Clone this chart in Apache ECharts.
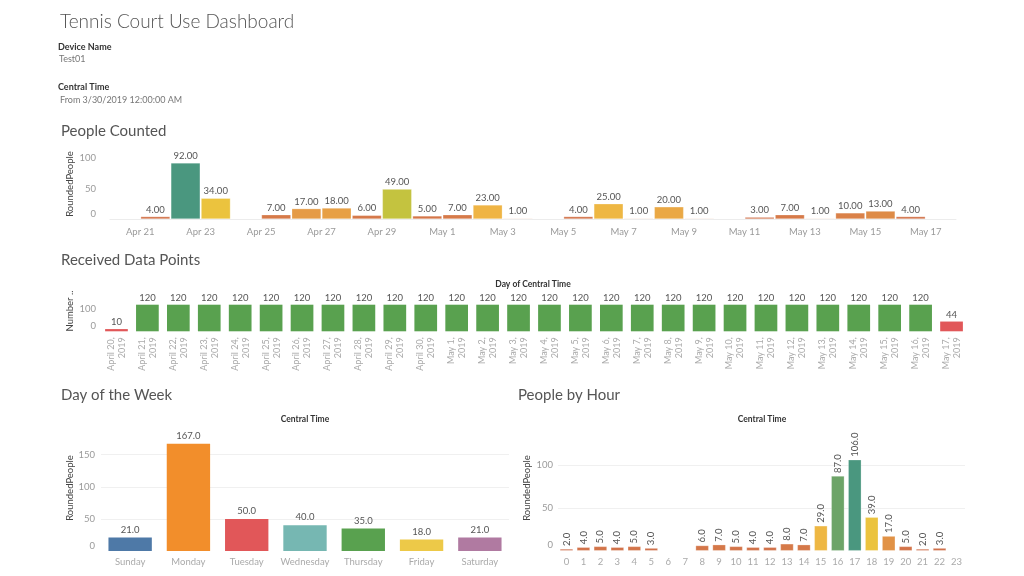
<!DOCTYPE html>
<html>
<head>
<meta charset="utf-8">
<script src="https://cdn.jsdelivr.net/npm/echarts@6/dist/echarts.min.js"></script>
<style>
html,body{margin:0;padding:0;background:#fff;}
#c{width:1024px;height:576px;}
</style>
</head>
<body>
<div id="c"></div>
<script>
// ---- Data ----
const countDays = ['Apr 20','Apr 21','Apr 22','Apr 23','Apr 24','Apr 25','Apr 26','Apr 27','Apr 28','Apr 29','Apr 30','May 1','May 2','May 3','May 4','May 5','May 6','May 7','May 8','May 9','May 10','May 11','May 12','May 13','May 14','May 15','May 16','May 17'];
const countTickDays = countDays.concat(['May 18']);
const peopleCounted = [null,4,92,34,null,7,17,18,6,49,5,7,23,1,null,4,25,1,20,1,null,3,7,1,10,13,4,null];

const receivedDays = ['April 20, 2019','April 21, 2019','April 22, 2019','April 23, 2019','April 24, 2019','April 25, 2019','April 26, 2019','April 27, 2019','April 28, 2019','April 29, 2019','April 30, 2019','May 1, 2019','May 2, 2019','May 3, 2019','May 4, 2019','May 5, 2019','May 6, 2019','May 7, 2019','May 8, 2019','May 9, 2019','May 10, 2019','May 11, 2019','May 12, 2019','May 13, 2019','May 14, 2019','May 15, 2019','May 16, 2019','May 17, 2019'];
const receivedPoints = [10,120,120,120,120,120,120,120,120,120,120,120,120,120,120,120,120,120,120,120,120,120,120,120,120,120,120,44];

const weekdays = ['Sunday','Monday','Tuesday','Wednesday','Thursday','Friday','Saturday'];
const weekdayPeople = [21,167,50,40,35,18,21];
const weekdayColors = ['#4e79a7','#f28e2b','#e15759','#76b7b2','#59a14f','#edc948','#b07aa1'];

const hours = ['0','1','2','3','4','5','6','7','8','9','10','11','12','13','14','15','16','17','18','19','20','21','22','23'];
const hourPeople = [2,4,5,4,5,3,null,null,6,7,5,4,4,8,7,29,87,106,39,17,5,2,3,null];

// ---- Styles ----
const FONT = 'Lato, "Open Sans", sans-serif';
const rampColors = ['#cd6a4b','#dc8547','#efb444','#ebc43e','#cfc73b','#a5b94a','#7faa5e','#5f9f70','#4a977f'];
const axisLabelStyle = {color:'#9a9a9a', fontSize:9.5, fontFamily:FONT};
const barLabel = {color:'#555', fontSize:9.5, fontFamily:FONT};

// y-axis label: the zero label sits slightly above the baseline
function yLabel(margin) {
  return Object.assign({
    margin: margin,
    showMaxLabel: false,
    formatter: (v)=> v === 0 ? '{z|0}' : String(v),
    rich: {z: {color:'#9a9a9a', fontSize:9.5, fontFamily:FONT, padding:[0,0,11,0]}}
  }, axisLabelStyle);
}

function txt(x, y, text, size, color, weight, rot, align) {
  return {type:'text', x:x, y:y, rotation: rot || 0,
    style:{text:text, fill:color, font:(weight||'normal')+' '+size+'px '+FONT,
      textAlign: align || 'left', textVerticalAlign:'middle'}};
}

const chart = echarts.init(document.getElementById('c'), null, {renderer:'canvas'});

const option = {
  backgroundColor:'#fff',
  animation:false,
  textStyle:{fontFamily:FONT},
  graphic:[
    txt(60, 22, 'Tennis Court Use Dashboard', 19, '#555', '300'),
    txt(58, 47, 'Device Name', 9, '#333', 'bold'),
    txt(59, 59, 'Test01', 9, '#777'),
    txt(58, 87, 'Central Time', 9, '#333', 'bold'),
    txt(60, 100, 'From 3/30/2019 12:00:00 AM', 9, '#777'),
    txt(61, 131, 'People Counted', 15, '#555'),
    txt(61, 260, 'Received Data Points', 15, '#555'),
    txt(61, 395, 'Day of the Week', 15, '#555'),
    txt(518, 395, 'People by Hour', 15, '#555'),
    txt(533, 284, 'Day of Central Time', 8.5, '#333', 'bold', 0, 'center'),
    txt(305, 419, 'Central Time', 8.5, '#333', 'bold', 0, 'center'),
    txt(762, 419, 'Central Time', 8.5, '#333', 'bold', 0, 'center'),
    txt(70, 184, 'RoundedPeople', 9.5, '#444', 'normal', Math.PI/2, 'center'),
    txt(70, 311, 'Number ..', 9.5, '#444', 'normal', Math.PI/2, 'center'),
    txt(70, 488, 'RoundedPeople', 9.5, '#444', 'normal', Math.PI/2, 'center'),
    txt(527, 488, 'RoundedPeople', 9.5, '#444', 'normal', Math.PI/2, 'center')
  ],
  visualMap:[
    {type:'continuous', show:false, seriesIndex:0, min:0, max:92, inRange:{color:rampColors}},
    {type:'continuous', show:false, seriesIndex:3, min:0, max:106, inRange:{color:rampColors}}
  ],
  grid:[
    {left:110, top:158, width:846, height:61},
    {left:101, top:304.7, width:866, height:26.6},
    {left:101, top:438.6, width:408, height:112.4},
    {left:558, top:456.3, width:407, height:94.4}
  ],
  xAxis:[
    {type:'category', gridIndex:0, data:countDays, axisLabel:{show:false}, axisTick:{show:false}, axisLine:{show:false}},
    {type:'category', gridIndex:0, boundaryGap:false, data:countTickDays, position:'bottom',
      axisLabel:Object.assign({interval:(i)=> i % 2 === 1, margin:8}, axisLabelStyle),
      axisTick:{show:false}, axisLine:{show:true, lineStyle:{color:'#ececec'}}},
    {type:'category', gridIndex:1, data:receivedDays,
      axisLabel:Object.assign({interval:0, rotate:90, margin:6, lineHeight:11,
        formatter:(v)=> v.replace(', ', ',\n')}, axisLabelStyle, {color:'#aaa', fontSize:9}),
      axisTick:{show:false}, axisLine:{show:false}},
    {type:'category', gridIndex:2, data:weekdays,
      axisLabel:Object.assign({interval:0, margin:6}, axisLabelStyle, {color:'#aaa'}),
      axisTick:{show:false}, axisLine:{show:false}},
    {type:'category', gridIndex:3, data:hours,
      axisLabel:Object.assign({interval:0, margin:6}, axisLabelStyle, {color:'#aaa'}),
      axisTick:{show:false}, axisLine:{show:false}}
  ],
  yAxis:[
    {type:'value', gridIndex:0, min:0, max:100, interval:50,
      axisLabel:Object.assign(yLabel(14), {showMaxLabel:true}), splitLine:{show:false}, axisLine:{show:false}, axisTick:{show:false}},
    {type:'value', gridIndex:1, min:0, max:120, interval:100,
      axisLabel:yLabel(5), splitLine:{show:false}, axisLine:{show:false}, axisTick:{show:false}},
    {type:'value', gridIndex:2, min:0, max:175, interval:50,
      axisLabel:yLabel(6),
      splitLine:{show:true, showMinLine:false, showMaxLine:false, lineStyle:{color:'#f0f0f0'}}, axisLine:{show:false}, axisTick:{show:false}},
    {type:'value', gridIndex:3, min:0, max:110, interval:50,
      axisLabel:yLabel(5),
      splitLine:{show:true, showMinLine:false, showMaxLine:false, lineStyle:{color:'#f0f0f0'}}, axisLine:{show:false}, axisTick:{show:false}}
  ],
  series:[
    {type:'bar', xAxisIndex:0, yAxisIndex:0, data:peopleCounted, barCategoryGap:'3%',
      itemStyle:{borderColor:'rgba(255,255,255,0.5)', borderWidth:0.5},
      label:Object.assign({show:true, position:'top', distance:2, formatter:(p)=> p.value == null ? '' : p.value.toFixed(2)}, barLabel)},
    {type:'bar', xAxisIndex:2, yAxisIndex:1, data:receivedPoints, barCategoryGap:'26.6%',
      itemStyle:{color:(p)=> p.value < 100 ? '#e15759' : '#59a14f'},
      label:Object.assign({show:true, position:'top', distance:2}, barLabel)},
    {type:'bar', xAxisIndex:3, yAxisIndex:2, barCategoryGap:'25.6%',
      data:weekdayPeople.map((v,i)=>({value:v, itemStyle:{color:weekdayColors[i]}})),
      label:Object.assign({show:true, position:'top', distance:3, formatter:(p)=> p.value.toFixed(1)}, barLabel)},
    {type:'bar', xAxisIndex:4, yAxisIndex:3, data:hourPeople, barCategoryGap:'23%',
      itemStyle:{borderColor:'rgba(255,255,255,0.5)', borderWidth:0.5},
      label:Object.assign({show:true, position:'top', rotate:90, align:'left', verticalAlign:'middle', distance:3,
        formatter:(p)=> p.value == null ? '' : p.value.toFixed(1)}, barLabel)}
  ]
};
chart.setOption(option);
</script>
</body>
</html>
